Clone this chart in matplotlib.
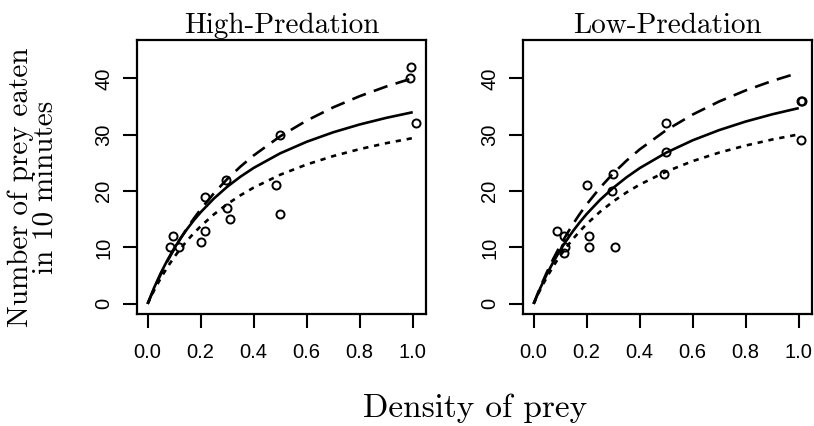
import numpy as np
import matplotlib
matplotlib.use("Agg")
import matplotlib.pyplot as plt

# observed points, High-Predation
hi_x = [0.085, 0.095, 0.12, 0.20, 0.215, 0.218, 0.295, 0.30, 0.31, 0.485, 0.50, 0.50, 0.99, 0.995, 1.013]
hi_y = [10, 12, 10, 11, 19, 13, 22, 17, 15, 21, 16, 30, 40, 42, 32]

# observed points, Low-Predation
lo_x = [0.09, 0.113, 0.113, 0.12, 0.20, 0.21, 0.21, 0.297, 0.30, 0.306, 0.49, 0.50, 0.50, 1.01, 1.012, 1.01]
lo_y = [13, 12, 9, 10, 21, 12, 10, 20, 23, 10, 23, 27, 32, 36, 36, 29]

# fitted curves
curve_x = [0, 0.025, 0.05, 0.075, 0.1, 0.125, 0.15, 0.175, 0.2, 0.25, 0.3, 0.35,
           0.4, 0.5, 0.6, 0.7, 0.8, 0.9, 1.0]
hi_solid = [0, 2.92, 5.49, 7.78, 9.83, 11.67, 13.34, 14.86, 16.24, 18.68, 20.76, 22.55,
            24.11, 26.70, 28.75, 30.43, 31.82, 32.99, 33.99]
hi_dash = [0, 2.75, 5.27, 7.58, 9.71, 11.67, 13.49, 15.18, 16.76, 19.61, 22.12, 24.34,
           26.32, 29.72, 32.51, 34.85, 36.84, 38.55, 40.03]
hi_dot = [0, 2.43, 4.60, 6.53, 8.27, 9.84, 11.27, 12.57, 13.76, 15.87, 17.68, 19.25,
          20.62, 22.90, 24.72, 26.21, 27.45, 28.50, 29.40]
lo_solid = [0, 2.78, 5.26, 7.49, 9.50, 11.33, 13.00, 14.52, 15.93, 18.42, 20.56, 22.43,
            24.07, 26.81, 29.01, 30.82, 32.34, 33.62, 34.72]
lo_dash = [0, 2.95, 5.62, 8.06, 10.30, 12.36, 14.25, 16.01, 17.64, 20.56, 23.13, 25.38,
           27.39, 30.80, 33.58, 35.90, 37.86, 39.54, 40.99]
lo_dot = [0, 2.51, 4.74, 6.73, 8.52, 10.13, 11.60, 12.93, 14.15, 16.31, 18.16, 19.75,
          21.15, 23.46, 25.32, 26.83, 28.08, 29.15, 30.06]

xticks = [0.0, 0.2, 0.4, 0.6, 0.8, 1.0]
xticklabels = ["0.0", "0.2", "0.4", "0.6", "0.8", "1.0"]
yticks = [0, 10, 20, 30, 40]

serif = "cmr10"
sans = "Liberation Sans"

fig = plt.figure(figsize=(8.14, 4.26), dpi=100)
W, H = 814.0, 426.0

panels = [
    (137, "High-Predation", hi_x, hi_y, hi_solid, hi_dash, hi_dot),
    (523, "Low-Predation", lo_x, lo_y, lo_solid, lo_dash, lo_dot),
]

for left, title, px, py, ys, yd, yo in panels:
    ax = fig.add_axes([left / W, 1 - 314 / H, 289 / W, 274 / H])
    ax.plot(curve_x, ys, color="black", lw=1.9, solid_capstyle="butt")
    ax.plot(curve_x, yd, color="black", lw=1.9, dashes=(5.5, 3.2))
    ax.plot(curve_x, yo, color="black", lw=1.9, dashes=(2.0, 2.2))
    ax.plot(px, py, "o", mfc="none", mec="black", ms=5.8, mew=1.4)
    ax.set_xlim(-0.04, 1.05)
    ax.set_ylim(-1.8, 46.8)
    ax.set_xticks(xticks)
    ax.set_xticklabels(xticklabels, fontfamily=sans, fontsize=14.5)
    ax.set_yticks(yticks)
    ax.set_yticklabels([str(v) for v in yticks], fontfamily=sans, fontsize=14.5,
                       rotation=90, va="center")
    ax.tick_params(length=10, width=1.5)
    ax.tick_params(axis="x", pad=11)
    ax.tick_params(axis="y", pad=7)
    for s in ax.spines.values():
        s.set_linewidth(1.6)
    ax.set_title(title, fontfamily=serif, fontsize=21, pad=5)

fig.text(475 / W, 1 - 417 / H, "Density of prey", fontfamily=serif, fontsize=24,
         ha="center", va="baseline")
fig.text(33 / W, 1 - 187 / H, "Number of prey eaten\nin 10 minutes", fontfamily=serif,
         fontsize=21, rotation=90, ha="center", va="center", linespacing=0.95,
         multialignment="center")

fig.savefig("out.png", dpi=100)
